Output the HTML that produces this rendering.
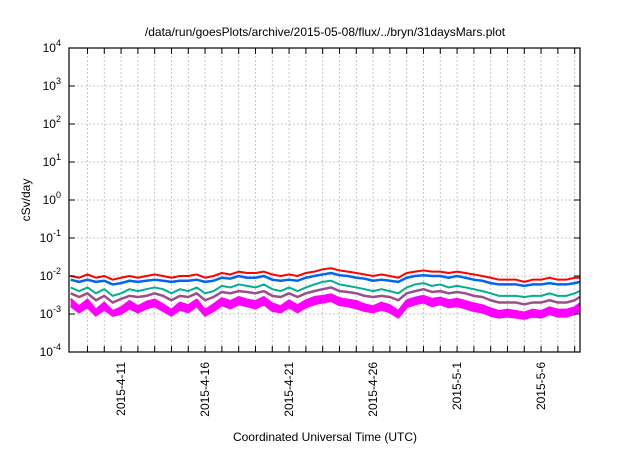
<!DOCTYPE html>
<html><head><meta charset="utf-8"><style>
body{margin:0;background:#fff;}
svg text{font-family:"Liberation Sans",sans-serif;fill:#000;}
</style></head><body>
<svg id="chart" width="640" height="448">
<text x="325" y="36" font-size="12" text-anchor="middle">/data/run/goesPlots/archive/2015-05-08/flux/../bryn/31daysMars.plot</text>
<g id="grid"></g><g id="series"></g><g id="axes"></g>
<text x="0" y="0" font-size="12" text-anchor="middle" transform="translate(30,200) rotate(-90)">cSv/day</text>
<text x="325" y="441" font-size="12" text-anchor="middle">Coordinated Universal Time (UTC)</text>
</svg>
<script>
const red=[10,9,11,9,10,8,9,10,9,10,11,10,9,10,10,11,9,10,12,11,13,12,12,13,11,10,11,10,12,13,15,16,14,13,12,11,10,11,10,9,12,13,14,13,13,12,13,12,11,10,9,8,8,8,7,8,8,9,8,8,9,9];
const blue=[8,7,8,7,7.5,6,6.5,7.5,7,7.5,8,7.5,7,7.5,7.5,8,7,7.5,9,8.5,10,9,9,10,8,7.5,8,7.5,9,10,11,12,10.5,10,9,8.5,7.5,8,7.5,7,9,10,10.5,10,10,9,10,9,8,7.5,6.5,6,6,6,5.5,6,6,6.5,6,6,6.5,7];
const teal=[5,4,5,3.5,4.5,3,3.5,4.5,4,4.5,5,4.5,3.5,4.5,4,5,3.5,4,5.5,5,6,5.5,5,6,4.5,4,5,4,5,6,7,7.5,6,5.5,5,4.5,4,4.5,4,3.5,5,6,6.5,5.5,6,5,5.5,5,4.5,4,3.5,3,3,3,2.8,3,3,3.5,3,3,3.5,4];
const purple=[3.5,2.8,3.5,2.3,3,2,2.5,3,2.8,3,3.5,3,2.3,3,2.8,3.5,2.3,2.8,3.8,3.5,4,3.8,3.5,4,3,2.8,3.5,2.8,3.5,4,4.5,5,4,3.8,3.5,3,2.8,3,2.8,2.3,3.5,4,4.5,3.8,4,3.5,3.8,3.5,3,2.8,2.3,2,2,2,1.8,2,2,2.3,2,2,2.3,2.8];
const magenta=[2.5,1.6,2.4,1.3,2,1.2,1.5,2.2,1.6,2.1,2.4,1.8,1.3,2,1.7,2.4,1.3,1.8,2.6,2.2,2.8,2.4,2.2,2.8,1.9,1.6,2.3,1.7,2.3,2.8,3,3.3,2.6,2.4,2.2,1.8,1.6,2,1.7,1.2,2.3,2.7,3,2.5,2.7,2.3,2.5,2.2,1.9,1.7,1.4,1.2,1.3,1.2,1.1,1.3,1.2,1.5,1.3,1.3,1.5,1.9];
const magentaLow=[1.6,1.1,1.5,0.9,1.3,0.9,1,1.4,1.1,1.4,1.6,1.2,0.9,1.3,1.1,1.6,0.9,1.2,1.7,1.4,1.8,1.6,1.4,1.8,1.2,1.1,1.5,1.1,1.5,1.8,2,2.2,1.7,1.6,1.4,1.2,1.1,1.3,1.1,0.8,1.5,1.8,2,1.6,1.8,1.5,1.6,1.4,1.2,1.1,0.9,0.8,0.85,0.8,0.75,0.85,0.8,1,0.85,0.85,1,1.2];
const xTickLabels=["2015-4-11","2015-4-16","2015-4-21","2015-4-26","2015-5-1","2015-5-6"];
const xTickDays=[3,8,13,18,23,28];
const yExps=[-4,-3,-2,-1,0,1,2,3,4];
const L=69,R=580,T=48,B=352,dayPx=16.8,d0=-0.1;
const NS='http://www.w3.org/2000/svg';
function xs(d){return L+(d-d0)*dayPx;}
function ys(v){return B-(Math.log10(v)+4)*(B-T)/8;}
function mk(t,a,p){const e=document.createElementNS(NS,t);for(const k in a)e.setAttribute(k,a[k]);p.appendChild(e);return e;}
const grid=document.getElementById('grid'),axes=document.getElementById('axes'),ser=document.getElementById('series');
for(let d=1;d<=30;d++){const x=xs(d);
 const g=mk('line',{x1:x,x2:x,y1:T,y2:B,stroke:'#bbb','stroke-dasharray':'2,2','stroke-width':0.8},grid);
 
 const t1=mk('line',{x1:x,x2:x,y1:B,y2:B-6,stroke:'#000'},axes);
 
 const t2=mk('line',{x1:x,x2:x,y1:T,y2:T+6,stroke:'#000'},axes);
 }
yExps.forEach(e=>{const y=ys(Math.pow(10,e));
 if(e>-4&&e<4){const g=mk('line',{x1:L,x2:R,y1:y,y2:y,stroke:'#bbb','stroke-dasharray':'2,2','stroke-width':0.8},grid);
 }
 const t=mk('line',{x1:L,x2:L+6,y1:y,y2:y,stroke:'#000'},axes);
 const t3=mk('line',{x1:R,x2:R-6,y1:y,y2:y,stroke:'#000'},axes);
 const tx=mk('text',{x:L-8,y:y+4,'font-size':12,'text-anchor':'end'},axes);
 
 tx.textContent='10';const s=mk('tspan',{dy:-6,'font-size':9},tx);s.textContent=String(e);});
xTickLabels.forEach((lb,i)=>{const x=xs(xTickDays[i]);
 const tx=mk('text',{x:0,y:0,'font-size':12,'text-anchor':'end',transform:`translate(${x+4},${B+10}) rotate(-90)`},axes);
 tx.textContent=lb;});
const fr=mk('rect',{x:L,y:T,width:R-L,height:B-T,fill:'none',stroke:'#000','stroke-width':1.2},axes);

function px(i){return xs(Math.min(i*0.5,30.3));}
function line(arr,col,w,name){const pts=arr.map((v,i)=>px(i)+','+ys(v*1e-3)).join(' ');
 const p=mk('polyline',{points:pts,fill:'none',stroke:col,'stroke-width':w,'stroke-linejoin':'round'},ser);
 }
const bandPts=magenta.map((v,i)=>px(i)+','+ys(v*1e-3)).concat(magentaLow.map((v,i)=>px(i)+','+ys(v*1e-3)).reverse()).join(' ');
const band=mk('polygon',{points:bandPts,fill:'#ff00ff',stroke:'none'},ser);

line(magentaLow,'#ff00ff',2,'series-magenta-low');
line(magenta,'#ff00ff',2,'series-magenta');
line(purple,'#9a4f8a',2.5,'series-purple');
line(teal,'#00b090',2,'series-teal');
line(blue,'#0066ee',2.5,'series-blue');
line(red,'#ff0000',2,'series-red');
</script>
</body></html>
